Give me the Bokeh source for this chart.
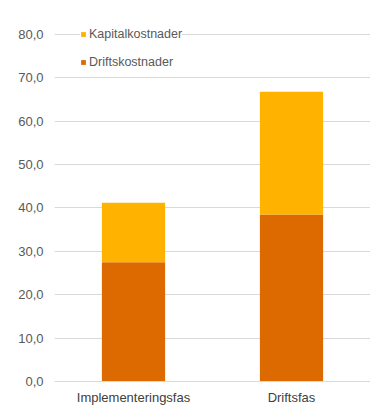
from bokeh.plotting import figure
from bokeh.models import ColumnDataSource, Legend, LegendItem, FixedTicker, CustomJSTickFormatter
from bokeh.embed import file_html
from bokeh.resources import INLINE

# Cost by phase (stacked)
phases = ["Implementeringsfas", "Driftsfas"]
driftskostnader = [27.5, 38.5]
kapitalkostnader = [13.7, 28.3]
y_ticks = [0, 10, 20, 30, 40, 50, 60, 70, 80]

DARK = "#DD6A00"
LIGHT = "#FFB300"
GRID = "#D9D9D9"
TEXT = "#595959"
FONT = "Liberation Sans"

source = ColumnDataSource(dict(
    phase=phases,
    Driftskostnader=driftskostnader,
    Kapitalkostnader=kapitalkostnader,
))

p = figure(
    x_range=phases, y_range=(0, 84.6),
    width=370, height=407,
    output_backend="svg", toolbar_location=None,
    min_border_left=54, min_border_right=0,
    min_border_top=14, min_border_bottom=24,
)

renderers = p.vbar_stack(
    ["Driftskostnader", "Kapitalkostnader"], x="phase", width=0.4,
    color=[DARK, LIGHT], line_color=None, source=source,
)

legend = Legend(
    items=[
        LegendItem(label="Kapitalkostnader", renderers=[renderers[1]]),
        LegendItem(label="Driftskostnader", renderers=[renderers[0]]),
    ],
    location=(26, 312),
    glyph_width=6, glyph_height=6,
    label_height=14, label_standoff=3,
    spacing=14, padding=12, margin=0,
    label_text_font=FONT, label_text_font_size="12.5px",
    label_text_color=TEXT,
    border_line_color=None, background_fill_color="white",
    background_fill_alpha=1.0,
)
p.add_layout(legend, "center")

p.outline_line_color = None
p.xgrid.grid_line_color = None
p.ygrid.grid_line_color = GRID
p.ygrid.ticker = FixedTicker(ticks=y_ticks)

p.yaxis.ticker = FixedTicker(ticks=y_ticks)
p.yaxis.formatter = CustomJSTickFormatter(code="return tick.toFixed(1).replace('.', ',');")
p.yaxis.axis_line_color = None
p.yaxis.major_tick_line_color = None
p.yaxis.minor_tick_line_color = None
p.yaxis.major_tick_out = 0
p.yaxis.major_label_standoff = 11
p.yaxis.major_label_text_font = FONT
p.yaxis.major_label_text_font_size = "13px"
p.yaxis.major_label_text_color = TEXT

p.xaxis.axis_line_color = GRID
p.xaxis.major_tick_line_color = None
p.xaxis.major_tick_out = 0
p.xaxis.major_label_standoff = 8
p.xaxis.major_label_text_font = FONT
p.xaxis.major_label_text_font_size = "13px"
p.xaxis.major_label_text_color = "#404040"

open("out.html", "w").write(file_html(p, INLINE))
